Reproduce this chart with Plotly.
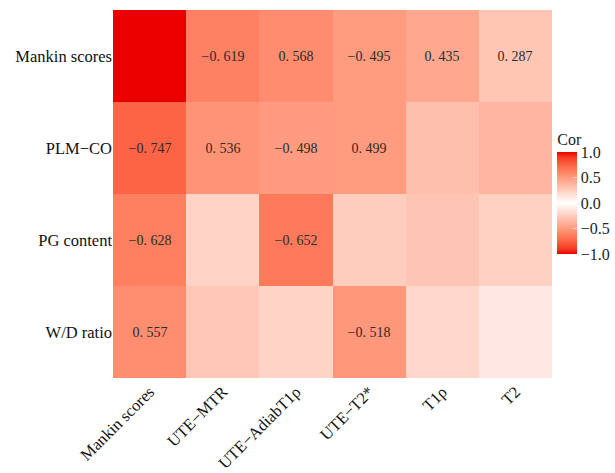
import plotly.graph_objects as go
import numpy as np

cols = ["Mankin scores", "UTE\u2212MTR", "UTE\u2212AdiabT1\u03c1", "UTE\u2212T2*", "T1\u03c1", "T2"]
rows = ["Mankin scores", "PLM\u2212CO", "PG content", "W/D ratio"]

mankin = [1.0, -0.619, 0.568, -0.495, 0.435, 0.287]
plmco = [-0.747, 0.536, -0.498, 0.499, 0.32, 0.37]
pg = [-0.628, -0.22, -0.652, -0.25, -0.29, -0.23]
wd = [0.557, 0.28, 0.21, -0.518, 0.20, 0.11]
# which cells are labelled (significant)
sig_mankin = [False, True, True, True, True, True]
sig_plmco = [True, True, True, True, False, False]
sig_pg = [True, False, True, False, False, False]
sig_wd = [True, False, False, True, False, False]

z = [mankin, plmco, pg, wd]
sig = [sig_mankin, sig_plmco, sig_pg, sig_wd]


def fmt(v):
    s = f"{abs(v):.3f}".replace(".", ". ")
    return ("\u2212" if v < 0 else "") + s


text = [[fmt(v) if s else "" for v, s in zip(r, sr)] for r, sr in zip(z, sig)]


# Lab interpolation red - white - red (ggplot-like gradient2)
def srgb_to_lin(c):
    c = c / 255.0
    return np.where(c <= 0.04045, c / 12.92, ((c + 0.055) / 1.055) ** 2.4)


def lin_to_srgb(c):
    c = np.clip(c, 0, 1)
    return np.where(c <= 0.0031308, c * 12.92, 1.055 * c ** (1 / 2.4) - 0.055) * 255


M = np.array([[0.4124, 0.3576, 0.1805], [0.2126, 0.7152, 0.0722], [0.0193, 0.1192, 0.9505]])
Minv = np.linalg.inv(M)
wp = np.array([0.95047, 1.0, 1.08883])


def f(t):
    return np.where(t > (6 / 29) ** 3, np.cbrt(t), t / (3 * (6 / 29) ** 2) + 4 / 29)


def finv(t):
    return np.where(t > 6 / 29, t ** 3, 3 * (6 / 29) ** 2 * (t - 4 / 29))


def rgb2lab(rgb):
    xyz = M @ srgb_to_lin(np.array(rgb, float)) / wp
    fx, fy, fz = f(xyz)
    return np.array([116 * fy - 16, 500 * (fx - fy), 200 * (fy - fz)])


def lab2rgb(lab):
    L, a, b = lab
    fy = (L + 16) / 116
    fx = fy + a / 500
    fz = fy - b / 200
    xyz = finv(np.array([fx, fy, fz])) * wp
    return lin_to_srgb(Minv @ xyz)


red = rgb2lab([235, 0, 0])
white = rgb2lab([255, 255, 255])
cs = []
n = 10
for i in range(n + 1):
    t = i / n
    rgb = lab2rgb(red + (white - red) * t)
    c = "rgb(%d,%d,%d)" % tuple(int(round(v)) for v in rgb)
    cs.append([0.5 * t, c])
for i in range(1, n + 1):
    t = i / n
    rgb = lab2rgb(white + (red - white) * t)
    c = "rgb(%d,%d,%d)" % tuple(int(round(v)) for v in rgb)
    cs.append([0.5 + 0.5 * t, c])

SERIF = "Liberation Serif"

fig = go.Figure(
    go.Heatmap(
        z=z,
        x=cols,
        y=rows,
        text=text,
        texttemplate="%{text}",
        textfont=dict(family=SERIF, size=14, color="#2a2a2a"),
        colorscale=cs,
        zmin=-1,
        zmax=1,
        xgap=0,
        ygap=0,
        hoverinfo="skip",
        colorbar=dict(
            title=dict(text="Cor", side="top", font=dict(family=SERIF, size=16, color="#222")),
            x=1.012,
            xanchor="left",
            y=(378 - 254) / 368,
            yanchor="bottom",
            lenmode="pixels",
            len=124,
            ypad=0,
            thickness=20,
            outlinewidth=0,
            xpad=0,
            tickvals=[1, 0.5, 0, -0.5, -1],
            ticktext=["1.0", "0.5", "0.0", "\u22120.5", "\u22121.0"],
            ticks="inside",
            ticklen=4,
            tickcolor="rgba(255,255,255,0.6)",
            tickfont=dict(family=SERIF, size=16, color="#222"),
        ),
    )
)

fig.update_layout(
    width=615,
    height=473,
    margin=dict(l=113, r=63, t=10, b=95, autoexpand=False),
    paper_bgcolor="white",
    plot_bgcolor="white",
    font=dict(family=SERIF, size=16, color="#111"),
)
fig.update_xaxes(tickangle=-45, showgrid=False, zeroline=False, ticks="", showline=False,
                 automargin=False,
                 tickfont=dict(family=SERIF, size=16.5, color="#111"))
fig.update_yaxes(autorange="reversed", showgrid=False, zeroline=False, ticks="", showline=False,
                 automargin=False,
                 tickfont=dict(family=SERIF, size=16.5, color="#111"))

fig.write_html("out.html", config={"displayModeBar": False},
               post_script="document.body.style.margin='0';")
